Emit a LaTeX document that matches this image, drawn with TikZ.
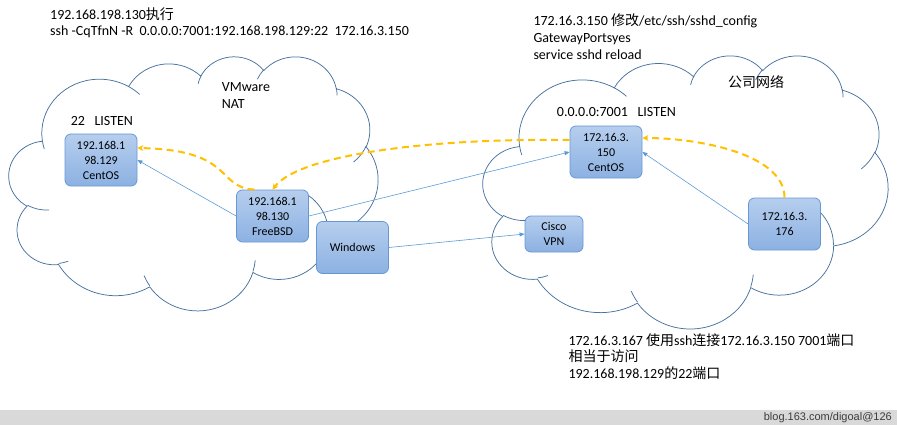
\documentclass[tikz,border=0pt]{standalone}
\usepackage{fontspec}
\setmainfont{Carlito}
\newfontfamily\cjk{Noto Sans CJK SC}
\newfontfamily\footfamily{Liberation Sans}
\usepackage{tikz}
\usetikzlibrary{arrows.meta}
\usetikzlibrary{positioning}
\definecolor{cloudblue}{RGB}{72,114,158}
\definecolor{hosttop}{RGB}{182,206,238}
\definecolor{hostbottom}{RGB}{140,177,226}
\definecolor{hostborder}{RGB}{104,152,212}
\definecolor{linkblue}{RGB}{91,155,213}
\definecolor{tunnelorange}{RGB}{255,192,0}
\definecolor{footgray}{RGB}{217,217,217}
\definecolor{footink}{RGB}{60,60,60}
\newcommand{\notefont}{\fontsize{14}{16.7}\selectfont}
\newcommand{\hostfont}{\fontsize{12}{15}\selectfont}
\tikzset{
    host/.style={
        draw=hostborder,
        line width=0.8pt,
        rounded corners=6pt,
        top color=hosttop,
        bottom color=hostbottom,
        minimum width=72pt,
        minimum height=52pt,
        align=center,
        inner sep=1pt,
        font=\hostfont
    },
    link/.style={
        draw=linkblue,
        line width=0.6pt,
        -{Triangle[length=5pt,width=4pt]}
    },
    tunnel/.style={
        draw=tunnelorange,
        line width=2pt,
        dash pattern=on 7pt off 4.5pt,
        -{Stealth[length=6pt,width=6pt]}
    },
    note/.style={
        anchor=base west,
        inner sep=0pt,
        font=\notefont
    },
    cloud line/.style={
        draw=cloudblue,
        line width=0.75pt
    }
}
% cloud outline drawn in a 432 x 432 frame: x0, y0, width, height
\newcommand{\netcloud}[4]{%
  \begin{scope}[shift={(#1,#2)}, x=1pt, y=1pt, xscale=#3/432, yscale=-#4/432]
    \draw[cloud line] (39.00,143.70)
      \foreach \w/\h/\s/\d in {67.53/91.90/-190.4875/123.7805,
                               53.33/72.67/-144.1024/89.9452,
                               43.65/59.45/-145.8079/99.7230,
                               48.57/65.95/-130.9861/117.2417,
                               53.33/72.73/-78.7089/109.0269,
                               67.75/92.20/-46.2673/130.2690,
                               57.85/78.67/0.6250/114.0333,
                               67.52/92.15/22.4516/115.1726,
                               77.20/105.43/66.2426/75.7110,
                               43.60/59.18/-274.9421/146.7356,
                               43.45/59.45/-246.8285/152.5189}
      { arc[start angle={atan2(\w*sin(\s),\h*cos(\s))},
            delta angle={mod(atan2(\w*sin(\s+\d),\h*cos(\s+\d))-atan2(\w*sin(\s),\h*cos(\s))+720,360)},
            x radius=\w, y radius=\h] } -- cycle;
    \foreach \px/\py/\w/\h/\s/\d in {46.93/261.77/43.45/59.45/86.742/26.4295,
                                     69.28/348.99/43.60/59.18/73.6105/11.4475,
                                     164.78/390.90/67.52/92.15/137.6242/14.0811,
                                     288.27/347.51/67.52/92.15/6.4533/15.9984,
                                     341.29/229.54/57.85/78.67/-70.2924/70.9174,
                                     417.98/153.54/53.33/72.73/30.3180/27.7515,
                                     383.24/54.26/48.57/65.95/-13.7443/14.8589,
                                     290.78/39.52/48.57/65.95/-149.1815/18.1954,
                                     221.41/47.20/43.65/59.45/-163.4943/17.6864,
                                     140.00/51.92/67.53/91.90/-66.7070/12.3194,
                                     41.27/157.89/67.53/91.90/157.6544/11.8582}
      \draw[cloud line] (\px,\py)
        arc[start angle={atan2(\w*sin(\s),\h*cos(\s))},
            delta angle={mod(atan2(\w*sin(\s+\d),\h*cos(\s+\d))-atan2(\w*sin(\s),\h*cos(\s))+720,360)},
            x radius=\w, y radius=\h];
  \end{scope}}

\begin{document}
\begin{tikzpicture}[x=1pt, y=-1pt]
  \useasboundingbox (0,0) rectangle (897,425);
  % the two networks
  \netcloud{9}{56}{369}{254}
  \netcloud{483}{55}{405}{273}

  % hosts
  \node[host] (vmcentos) at (101,160) {192.168.1\\98.129\\CentOS};
  \node[host] (bsd) at (272.5,216) {192.168.1\\98.130\\FreeBSD};
  \node[host] (win) at (352.5,247.5) {Windows};
  \node[host, minimum width=58pt, minimum height=36pt] (vpn) at (554,234) {Cisco\\VPN};
  \node[host] (corpcentos) at (606,152) {172.16.3.\\150\\CentOS};
  \node[host] (client) at (784.5,224) {172.16.3.\\176};

  % physical links
  \draw[link] (bsd.west) -- (vmcentos.east);
  \draw[link] (bsd.east) -- (corpcentos.west);
  \draw[link] (win.east) -- (vpn.west);
  \draw[link] (client.west) -- (corpcentos.east);

  % tunnel path
  \draw[tunnel] ([xshift=-18pt]bsd.north) .. controls +(-39,-2) and +(98,2) .. ([yshift=12pt]vmcentos.east);
  \draw[tunnel] ([yshift=12pt]corpcentos.west) .. controls +(-140,-2) and +(27,-35) .. (bsd.north);
  \draw[tunnel] (client.north) .. controls +(0,-43) and +(58,0) .. ([yshift=14pt]corpcentos.east);

  % notes
  \node[note] (cmd) at (50,19.3) {\begin{tabular}[t]{@{}l@{}}192.168.198.130{\cjk 执行}\\ssh -CqTfnN -R~ 0.0.0.0:7001:192.168.198.129:22~ 172.16.3.150\end{tabular}};
  \node[note] (nat) at (221.7,91.7) {\begin{tabular}[t]{@{}l@{}}VMware\\NAT\end{tabular}};
  \node[note] (listen22) at (70.7,126) {22~~~LISTEN};
  \node[note] (sshdconf) at (533.3,26) {\begin{tabular}[t]{@{}l@{}}172.16.3.150 {\cjk 修改}/etc/ssh/sshd\_config\\GatewayPortsyes\\service sshd reload\end{tabular}};
  \node[note] (corpnet) at (728,88) {\cjk 公司网络};
  \node[note] (listen7001) at (556.7,116.7) {0.0.0.0:7001~~~LISTEN};
  \node[note] (usage) at (568.3,345) {\begin{tabular}[t]{@{}l@{}}172.16.3.167 {\cjk 使用}ssh{\cjk 连接}172.16.3.150 7001{\cjk 端口}\\{\cjk 相当于访问}\\192.168.198.129{\cjk 的}22{\cjk 端口}\end{tabular}};

  % footer
  \fill[footgray] (0,410) rectangle (897,425);
  \node[anchor=base east, inner sep=0pt, text=footink, font={\footfamily\fontsize{11}{13}\selectfont}] (blog) at (892,420.7) {blog.163.com/digoal@126};
\end{tikzpicture}
\end{document}
